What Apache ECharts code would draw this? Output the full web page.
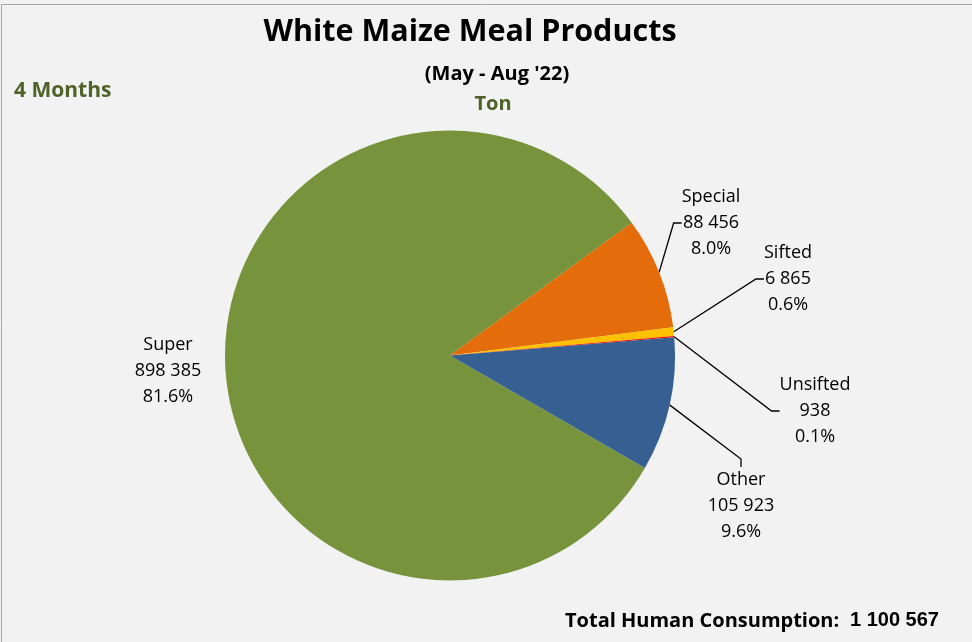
<!DOCTYPE html>
<html>
<head>
<meta charset="utf-8">
<script src="https://cdn.jsdelivr.net/npm/echarts@6/dist/echarts.min.js"></script>
<style>
html,body{margin:0;padding:0;background:#F2F2F2;}
#main{width:972px;height:642px;}
</style>
</head>
<body>
<div id="main"></div>
<script>
const categories = ['Super', 'Special', 'Sifted', 'Unsifted', 'Other'];
const values = [898385, 88456, 6865, 938, 105923];
const colors = ['#77933C', '#E46C0A', '#FFC000', '#FF0000', '#366092'];
const totalLabel = '1 100 567';

const total = values.reduce((a, b) => a + b, 0);
function fmt(n) { return String(n).replace(/\B(?=(\d{3})+(?!\d))/g, ' '); }

// label anchor positions (text-block centres)
const labelPos = [[168, 371], [711, 223], [788, 279], [815, 411], [741, 506]];

const chart = echarts.init(document.getElementById('main'), null, {renderer: 'canvas'});
const FONT = '"Open Sans", "Noto Sans", sans-serif';
chart.setOption({
  backgroundColor: '#F2F2F2',
  animation: false,
  title: [
    {text: 'White Maize Meal Products', left: 465, top: 12, textAlign: 'center',
     textStyle: {fontFamily: FONT, fontWeight: 'bold', fontSize: 30.5, color: '#000'}},
    {text: "(May - Aug '22)", left: 492, top: 59, textAlign: 'center',
     textStyle: {fontFamily: FONT, fontWeight: 'bold', fontSize: 20, color: '#000'}},
    {text: 'Ton', left: 488, top: 89, textAlign: 'center',
     textStyle: {fontFamily: FONT, fontWeight: 'bold', fontSize: 20, color: '#4F6228'}},
    {text: '4 Months', left: 9, top: 76,
     textStyle: {fontFamily: FONT, fontWeight: 'bold', fontSize: 21, color: '#4F6228'}},
    {text: 'Total Human Consumption:', left: 560, top: 606,
     textStyle: {fontFamily: FONT, fontWeight: 'bold', fontSize: 20, color: '#000'}},
    {text: totalLabel, left: 845, top: 605,
     textStyle: {fontFamily: '"Liberation Sans", Arial, sans-serif', fontWeight: 'bold', fontSize: 20, color: '#000'}}
  ],
  graphic: [
    {type: 'rect', shape: {x: 1.5, y: 4.5, width: 1000, height: 1000},
     style: {fill: 'none', stroke: '#A6A6A6', lineWidth: 1}, silent: true}
  ],
  series: [{
    type: 'pie',
    center: [450, 355.5],
    radius: 225,
    startAngle: -30,
    clockwise: true,
    avoidLabelOverlap: false,
    color: colors,
    itemStyle: {borderWidth: 0},
    data: categories.map((c, i) => ({
      name: c, value: values[i],
      labelLine: {show: i !== 0}
    })),
    label: {
      show: true,
      position: 'outside',
      fontFamily: FONT,
      fontSize: 18,
      lineHeight: 26,
      color: '#000',
      align: 'center',
      formatter: p => p.name + '\n' + fmt(p.value) + '\n' + (p.value / total * 100).toFixed(1) + '%'
    },
    labelLine: {
      show: true,
      length: 20,
      length2: 8,
      lineStyle: {color: '#000', width: 1.3}
    },
    labelLayout: function (params) {
      const p = labelPos[params.dataIndex];
      return {x: p[0], y: p[1], align: 'center', verticalAlign: 'middle'};
    }
  }]
});
</script>
</body>
</html>
